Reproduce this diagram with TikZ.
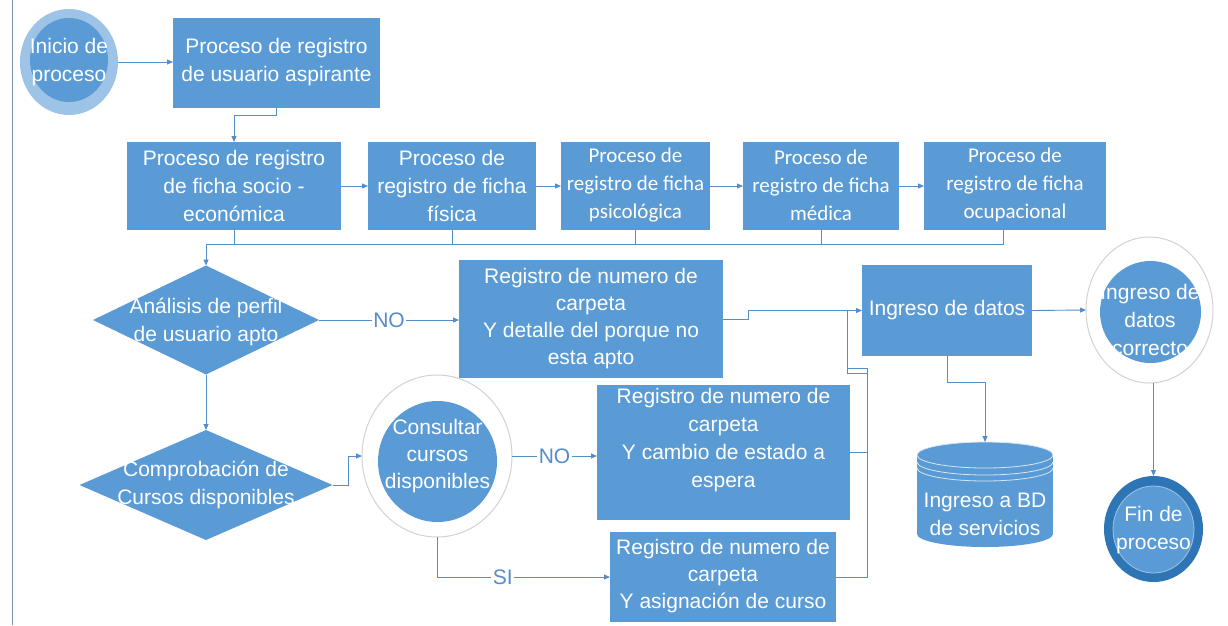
\documentclass[tikz,border=0pt]{standalone}
\usepackage{fontspec}
\setmainfont{Liberation Sans}
\newfontfamily\calibri{Carlito}
\usetikzlibrary{shapes.geometric,arrows.meta,calc}
\definecolor{boxblue}{RGB}{91,155,213}
\definecolor{lightblue}{RGB}{157,195,230}
\definecolor{darkblue}{RGB}{46,117,182}
\definecolor{linec}{RGB}{84,141,200}
\definecolor{ringgray}{RGB}{210,210,210}
\definecolor{framec}{RGB}{120,150,175}
\begin{document}
\begin{tikzpicture}[x=1pt,y=-1pt,
  every node/.style={inner sep=0pt,outer sep=0pt},
  txt/.style={text=white,font=\fontsize{21}{28}\selectfont,align=center},
  txtn/.style={text=white,font=\fontsize{21}{27}\selectfont,align=center},
  txtc/.style={text=white,font=\calibri\fontsize{21}{28}\selectfont,align=center},
  pbox/.style={rectangle,fill=boxblue},
  dbox/.style={diamond,fill=boxblue},
  ring/.style={ellipse,fill=white,draw=ringgray,line width=1pt},
  disc/.style={ellipse,fill=boxblue},
  conn/.style={draw=linec,line width=0.9pt},
  arr/.style={conn,-{Triangle[length=6pt,width=5pt]}},
  lbl/.style={fill=white,text=linec,font=\fontsize{21}{24}\selectfont,inner xsep=1.5pt,inner ysep=2pt}
]
\path[use as bounding box] (0,0) rectangle (1228,625);
\draw[framec,line width=1pt] (12,0) -- (12,625);

% start
\node[ellipse,fill=lightblue,minimum width=98,minimum height=106] (start) at (69,62) {};
\node[disc,minimum width=78,minimum height=84] (starti) at (69,60) {};
\node[txt] (startt) at (69,62) {Inicio de\\proceso};

% first box
\node[pbox,minimum width=207,minimum height=90] (b1) at (276.5,63) {};
\node[txt] (b1t) at (276.5,62) {Proceso de registro\\de usuario aspirante};

% row of forms
\node[pbox,minimum width=214,minimum height=88] (r1) at (234,186) {};
\node[txt] (r1t) at (234,186) {Proceso de registro\\de ficha socio -\\económica};
\node[pbox,minimum width=168,minimum height=88] (r2) at (452,186) {};
\node[txt] (r2t) at (452,186) {Proceso de\\registro de ficha\\física};
\node[pbox,minimum width=149,minimum height=88] (r3) at (635.5,186) {};
\node[txtc] (r3t) at (635.5,185) {Proceso de\\registro de ficha\\psicológica};
\node[pbox,minimum width=156,minimum height=88] (r4) at (821,186) {};
\node[txtc] (r4t) at (821,185) {Proceso de\\registro de ficha\\médica};
\node[pbox,minimum width=182,minimum height=88] (r5) at (1015,186) {};
\node[txtc] (r5t) at (1015,185) {Proceso de\\registro de ficha\\ocupacional};

% decisions
\node[dbox,minimum width=226,minimum height=109] (d1) at (206,320) {};
\node[txt] (d1t) at (206,322) {Análisis de perfil\\de usuario apto};
\node[dbox,minimum width=253,minimum height=110] (d2) at (206,485) {};
\node[txt] (d2t) at (206,485) {Comprobación de\\Cursos disponibles};

% NO box
\node[pbox,minimum width=264,minimum height=118] (no1) at (591,319) {};
\node[txtn] (no1t) at (591,319) {Registro de numero de\\carpeta\\Y detalle del porque no\\esta apto};

% Ingreso de datos
\node[pbox,minimum width=170,minimum height=91] (ing) at (947,310.5) {};
\node[txt] (ingt) at (947,310) {Ingreso de datos};

% correcto
\node[ring,minimum width=127,minimum height=146] (corr) at (1149.5,310) {};
\node[disc,minimum width=101,minimum height=102] (corri) at (1150.5,312) {};
\node[txt] (corrt) at (1150,320) {Ingreso de\\datos\\correcto};

% consultar
\node[ring,minimum width=150,minimum height=162] (cons) at (437,456) {};
\node[disc,minimum width=119,minimum height=121] (consi) at (437.5,461.5) {};
\node[txtn] (const) at (437.5,456) {Consultar\\cursos\\disponibles};

% espera / asignacion
\node[pbox,minimum width=253,minimum height=135] (esp) at (723.5,452) {};
\node[txt] (espt) at (723.5,440) {Registro de numero de\\carpeta\\Y cambio de estado a\\espera};
\node[pbox,minimum width=226,minimum height=90] (asg) at (723,577) {};
\node[txtn] (asgt) at (723,576) {Registro de numero de\\carpeta\\Y asignación de curso};

% database
\node[minimum width=136,minimum height=105] (db) at (985,494.5) {};
\fill[boxblue] (917,455) rectangle (1053,534);
\fill[boxblue] (985,534) ellipse [x radius=68,y radius=13];
\fill[boxblue] (985,455) ellipse [x radius=68,y radius=13];
\draw[white!75!boxblue,line width=0.8pt] (985,455) ellipse [x radius=68,y radius=13];
\draw[white!75!boxblue,line width=0.8pt] (917,462) arc[start angle=180,end angle=0,x radius=68,y radius=13];
\draw[white!75!boxblue,line width=0.8pt] (917,468) arc[start angle=180,end angle=0,x radius=68,y radius=13];
\node[txt] (dbt) at (985,514) {Ingreso a BD\\de servicios};

% fin
\node[ellipse,fill=darkblue,minimum width=99,minimum height=106] (fin) at (1153.5,529) {};
\node[disc,draw=lightblue,line width=0.8pt,minimum width=81,minimum height=87] (fini) at (1153.5,529.5) {};
\node[txt] (fint) at (1153.5,530) {Fin de\\proceso};

% connectors
\draw[arr] (start.east) -- (b1.west |- start.east);
\draw[arr] (b1.south) -- ++(0,7) -| (r1.north);
\draw[arr] (r1.east) -- (r2.west);
\draw[arr] (r2.east) -- (r3.west);
\draw[arr] (r3.east) -- (r4.west);
\draw[arr] (r4.east) -- (r5.west);
\coordinate (m) at (206,244);
\coordinate (r5d) at ($(r5.south)+(-12,0)$);
\draw[arr] (r5d) |- (m) -- (d1.north);
\draw[conn] (r1.south) -- (r1.south |- m);
\draw[conn] (r2.south) -- (r2.south |- m);
\draw[conn] (r3.south) -- (r3.south |- m);
\draw[conn] (r4.south) -- (r4.south |- m);
\draw[arr] (d1.east) -- node[lbl] (lno1) {NO} (no1.west |- d1.east);
\draw[arr] (d1.south) -- (d2.north);
\draw[arr] (d2.east) -- ++(16,0) |- (cons.west);
\draw[arr] (cons.east) -- node[lbl] (lno2) {NO} (esp.west |- cons.east);
\draw[arr] (cons.south) |- node[lbl,pos=0.69] (lsi) {SI} (asg.west);
\draw[arr] (no1.east) -- ++(25,0) |- (ing.west);
\coordinate (vA) at (867,368);
\coordinate (vB) at (847,368);
\draw[conn] (esp.east) -| (vA) -- (vB) -- (vB |- ing.west);
\draw[conn] (asg.east) -| ($(vA)+(0,5)$) -- ($(vB)+(0,5)$) -- (vB |- ing.west);
\draw[arr] (ing.east) -- (corr.west);
\draw[arr] (ing.south) -- ++(0,26) -| (db.north);
\draw[arr] (fin.north |- corr.south) -- (fin.north);
\end{tikzpicture}
\end{document}
